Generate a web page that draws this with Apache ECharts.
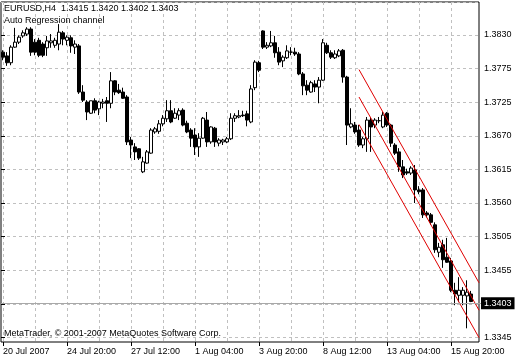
<!DOCTYPE html>
<html><head><meta charset="utf-8">
<script src="https://cdn.jsdelivr.net/npm/echarts@6/dist/echarts.min.js"></script>
<style>html,body{margin:0;padding:0;background:#fff}#c{width:520px;height:360px}</style>
</head><body><div id="c"></div>
<script>
const symbolName = 'EURUSD,H4';
const indicatorName = 'Auto Regression channel';
const copyright = 'MetaTrader, \u00a9 2001-2007 MetaQuotes Software Corp.';
const xTickLabels = ['20 Jul 2007','24 Jul 20:00','27 Jul 12:00','1 Aug 04:00','3 Aug 20:00','8 Aug 12:00','13 Aug 04:00','15 Aug 20:00'];
const yTickLabels = ['1.3345','','1.3455','1.3505','1.3560','1.3615','1.3670','1.3725','1.3775','1.3830'];

const opens = [1.3803,1.3797,1.3786,1.3811,1.3819,1.3829,1.3832,1.3840,1.3819,1.3822,
1.3816,1.3810,1.3818,1.3814,1.3816,1.3834,1.3822,1.3826,1.3811,1.3813,
1.3739,1.3723,1.3705,1.3725,1.3712,1.3721,1.3725,1.3721,1.3757,1.3742,
1.3739,1.3731,1.3662,1.3651,1.3648,1.3611,1.3625,1.3641,1.3675,1.3676,
1.3688,1.3696,1.3709,1.3697,1.3702,1.3710,1.3689,1.3678,1.3670,1.3651,
1.3665,1.3694,1.3659,1.3681,1.3657,1.3659,1.3659,1.3664,1.3697,1.3699,
1.3702,1.3704,1.3691,1.3746,1.3786,1.3837,1.3811,1.3813,1.3818,1.3803,
1.3789,1.3794,1.3803,1.3803,1.3800,1.3768,1.3750,1.3739,1.3752,1.3747,
1.3758,1.3814,1.3802,1.3794,1.3797,1.3806,1.3763,1.3683,1.3686,1.3678,
1.3654,1.3664,1.3694,1.3686,1.3693,1.3683,1.3705,1.3686,1.3654,1.3643,
1.3619,1.3611,1.3609,1.3614,1.3582,1.3582,1.3545,1.3542,1.3526,1.3482,
1.3494,1.3474,1.3468,1.3421,1.3413,1.3413,1.3412,1.3415];
const highs = [1.3806,1.3803,1.3814,1.3842,1.3830,1.3838,1.3843,1.3843,1.3824,1.3826,
1.3819,1.3829,1.3832,1.3826,1.3848,1.3837,1.3830,1.3830,1.3822,1.3816,
1.3750,1.3726,1.3725,1.3729,1.3725,1.3728,1.3731,1.3771,1.3758,1.3752,
1.3746,1.3734,1.3667,1.3657,1.3649,1.3635,1.3646,1.3681,1.3683,1.3694,
1.3702,1.3726,1.3726,1.3713,1.3713,1.3713,1.3693,1.3681,1.3681,1.3673,
1.3699,1.3707,1.3684,1.3683,1.3665,1.3664,1.3667,1.3705,1.3705,1.3710,
1.3709,1.3709,1.3750,1.3790,1.3789,1.3838,1.3819,1.3837,1.3829,1.3811,
1.3798,1.3814,1.3811,1.3810,1.3803,1.3771,1.3758,1.3757,1.3758,1.3763,
1.3824,1.3818,1.3806,1.3806,1.3808,1.3808,1.3765,1.3713,1.3691,1.3686,
1.3667,1.3699,1.3699,1.3697,1.3699,1.3707,1.3707,1.3688,1.3657,1.3649,
1.3630,1.3616,1.3620,1.3622,1.3588,1.3585,1.3548,1.3545,1.3530,1.3497,
1.3502,1.3505,1.3473,1.3433,1.3442,1.3426,1.3437,1.3420];
const lows = [1.3790,1.3781,1.3782,1.3810,1.3816,1.3826,1.3829,1.3797,1.3798,1.3795,
1.3795,1.3797,1.3810,1.3810,1.3806,1.3814,1.3814,1.3802,1.3800,1.3736,
1.3723,1.3694,1.3704,1.3705,1.3702,1.3713,1.3691,1.3713,1.3734,1.3736,
1.3728,1.3654,1.3633,1.3630,1.3630,1.3609,1.3624,1.3640,1.3672,1.3672,
1.3684,1.3691,1.3689,1.3696,1.3694,1.3684,1.3673,1.3651,1.3638,1.3635,
1.3664,1.3651,1.3656,1.3651,1.3652,1.3654,1.3657,1.3662,1.3691,1.3697,
1.3699,1.3684,1.3689,1.3742,1.3771,1.3808,1.3808,1.3811,1.3794,1.3782,
1.3779,1.3792,1.3798,1.3797,1.3766,1.3734,1.3734,1.3738,1.3739,1.3721,
1.3757,1.3800,1.3792,1.3792,1.3795,1.3754,1.3654,1.3681,1.3672,1.3651,
1.3649,1.3643,1.3643,1.3681,1.3689,1.3681,1.3683,1.3651,1.3638,1.3611,
1.3601,1.3606,1.3606,1.3561,1.3575,1.3537,1.3538,1.3526,1.3481,1.3474,
1.3457,1.3465,1.3418,1.3397,1.3402,1.3397,1.3360,1.3402];
const closes = [1.3795,1.3786,1.3811,1.3819,1.3827,1.3834,1.3840,1.3803,1.3803,1.3798,
1.3798,1.3821,1.3821,1.3822,1.3835,1.3824,1.3827,1.3813,1.3816,1.3739,
1.3726,1.3707,1.3725,1.3710,1.3723,1.3723,1.3721,1.3757,1.3739,1.3738,
1.3729,1.3659,1.3654,1.3643,1.3633,1.3627,1.3643,1.3678,1.3680,1.3688,
1.3697,1.3709,1.3691,1.3705,1.3709,1.3686,1.3675,1.3665,1.3651,1.3665,
1.3697,1.3659,1.3683,1.3659,1.3662,1.3662,1.3664,1.3697,1.3701,1.3701,
1.3701,1.3694,1.3744,1.3787,1.3774,1.3811,1.3814,1.3818,1.3802,1.3787,
1.3795,1.3805,1.3803,1.3800,1.3768,1.3749,1.3742,1.3754,1.3747,1.3758,
1.3818,1.3802,1.3795,1.3800,1.3805,1.3763,1.3686,1.3688,1.3675,1.3654,
1.3664,1.3694,1.3683,1.3694,1.3693,1.3702,1.3686,1.3657,1.3641,1.3619,
1.3606,1.3609,1.3617,1.3582,1.3579,1.3542,1.3542,1.3530,1.3486,1.3490,
1.3470,1.3466,1.3421,1.3415,1.3421,1.3421,1.3418,1.3403];

const channelBars = [89, 119];
const channelUpper = [1.3775, 1.3433];
const channelMid = [1.3731, 1.3389];
const channelLower = [1.3687, 1.3345];
const bidPrice = 1.3403;

// price-axis scale (MetaTrader grid)
const topGridPrice = 1.38305, gridStep = 0.00539, gridCount = 9;
// layout
const plotTop = 2, plotBottom = 342, frameLeft = 1, frameRight = 479, lowestTickY = 337.4, tickPx = 33.6;
const nCats = 120, bandPx = 4;

const lowestTick = topGridPrice - gridCount * gridStep;
const pricePerPx = gridStep / tickPx;
const yMax = lowestTick + (lowestTickY - plotTop) * pricePerPx;
const yMinData = lowestTick - (plotBottom - lowestTickY) * pricePerPx;

const FONT = 'Liberation Sans';
const cats = Array.from({length: nCats}, (_, i) => String(i));
const last = closes.length - 1;
const header = symbolName + '  ' + [opens[last], highs[last], lows[last], closes[last]].map(v => v.toFixed(4)).join(' ');
const candleData = opens.map((o, i) => [o, closes[i], lows[i], highs[i]]);
const red = '#e00000';
const chLine = (arr) => ({
  type: 'line', xAxisIndex: 0, yAxisIndex: 0, symbol: 'none', silent: true,
  data: channelBars.map((b, i) => [b, arr[i]]),
  lineStyle: {color: red, width: 1}, z: 3
});
const txt = {fontFamily: FONT, fontSize: 9, color: '#000', fontWeight: 'normal'};

const chart = echarts.init(document.getElementById('c'), null, {renderer: 'canvas'});
chart.setOption({
  animation: false,
  backgroundColor: '#fff',
  textStyle: {fontFamily: FONT},
  title: [
    {text: header, left: 4, top: 4, padding: 0, textStyle: txt},
    {text: indicatorName, left: 4, top: 16, padding: 0, textStyle: txt},
    {text: copyright, left: 4, top: 329, padding: 0, textStyle: txt}
  ],
  grid: [
    {left: frameLeft, top: plotTop, width: nCats * bandPx, height: plotBottom - plotTop, show: false, outerBoundsMode: 'none', containLabel: false},
    {left: frameLeft, top: plotTop, width: frameRight - frameLeft, height: plotBottom - plotTop, show: true, borderColor: '#000', borderWidth: 1, backgroundColor: 'transparent', outerBoundsMode: 'none', containLabel: false},
    {left: frameLeft, top: plotTop, width: frameRight - frameLeft, height: lowestTickY - plotTop, show: false, outerBoundsMode: 'none', containLabel: false}
  ],
  xAxis: [
    {type: 'category', gridIndex: 0, data: cats, boundaryGap: true,
     axisLine: {show: false},
     axisTick: {show: true, alignWithLabel: true, interval: 15, length: 4, lineStyle: {color: '#000'}},
     axisLabel: {interval: 15, align: 'left', margin: 5, fontSize: 9, color: '#000', fontFamily: FONT,
       formatter: (v, idx) => (idx % 16 === 0 && xTickLabels[idx / 16]) ? xTickLabels[idx / 16] : ''},
     splitLine: {show: true, interval: 7, alignWithLabel: true, lineStyle: {color: '#c0c0c0', type: [3, 3], width: 1}}
    },
    {type: 'value', gridIndex: 2, show: false, min: 0, max: 1}
  ],
  yAxis: [
    {type: 'value', gridIndex: 0, show: false, min: yMinData, max: yMax, scale: true, splitLine: {show: false}},
    {type: 'value', gridIndex: 2, position: 'right', min: lowestTick, max: yMax, interval: gridStep,
     axisLine: {show: false},
     axisTick: {show: true, length: 4, lineStyle: {color: '#000'}},
     axisLabel: {margin: 5, fontSize: 9, color: '#000', fontFamily: FONT, showMaxLabel: false, showMinLabel: true,
       formatter: (v) => { const j = Math.round((v - lowestTick) / gridStep); return (Math.abs(v - (lowestTick + j * gridStep)) < gridStep * 0.01 && yTickLabels[j]) ? yTickLabels[j] : ''; }},
     splitLine: {show: true, lineStyle: {color: '#c0c0c0', type: [3, 3], width: 1}}
    }
  ],
  series: [
    {type: 'candlestick', xAxisIndex: 0, yAxisIndex: 0, data: candleData, barWidth: 3, clip: false,
     itemStyle: {color: '#fff', color0: '#000', borderColor: '#000', borderColor0: '#000', borderWidth: 1},
     markLine: {silent: true, symbol: ['none', 'none'], animation: false,
       lineStyle: {color: '#a8a8a8', type: 'solid', width: 1},
       label: {show: true, position: 'end', distance: 0, formatter: () => bidPrice.toFixed(4), backgroundColor: '#000', color: '#fff', padding: [2, 3, 1, 3], fontSize: 9, fontFamily: FONT},
       emphasis: {disabled: true},
       data: [{yAxis: bidPrice}]}
    },
    chLine(channelUpper), chLine(channelMid), chLine(channelLower)
  ]
});
</script>
</body></html>
